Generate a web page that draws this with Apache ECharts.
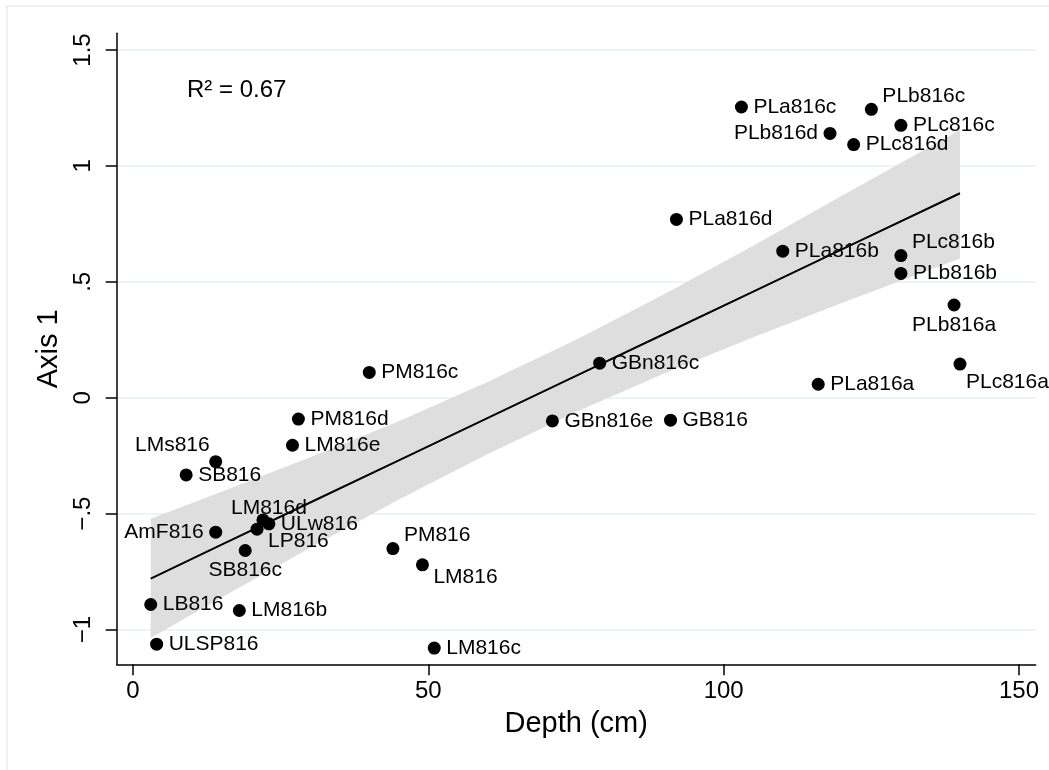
<!DOCTYPE html>
<html>
<head>
<meta charset="utf-8">
<script src="https://cdn.jsdelivr.net/npm/echarts@6/dist/echarts.min.js"></script>
<style>
  html, body { margin: 0; padding: 0; background: #fff; }
  #main { width: 1049px; height: 770px; }
</style>
</head>
<body>
<div id="main"></div>
<script>
// samples: depth (cm) vs ordination axis 1
const names = ['PLa816c', 'PLb816c', 'PLb816d', 'PLc816c', 'PLc816d', 'PLa816d', 'PLa816b', 'PLc816b',
  'PLb816b', 'PLb816a', 'PLc816a', 'PLa816a', 'GBn816c', 'GBn816e', 'GB816', 'PM816c', 'PM816d',
  'LM816e', 'LMs816', 'SB816', 'AmF816', 'LM816d', 'ULw816', 'LP816', 'SB816c', 'PM816', 'LM816',
  'LB816', 'LM816b', 'ULSP816', 'LM816c']
const depth = [103, 125, 118, 130, 122, 92, 110, 130, 130, 139, 140, 116, 79, 71, 91, 40, 28,
  27, 14, 9, 14, 22, 23, 21, 19, 44, 49, 3, 18, 4, 51]
const axis1 = [1.254, 1.244, 1.140, 1.175, 1.092, 0.769, 0.632, 0.613, 0.536, 0.400, 0.145, 0.058,
  0.149, -0.100, -0.097, 0.109, -0.092, -0.205, -0.276, -0.333, -0.580, -0.527, -0.544, -0.567,
  -0.659, -0.651, -0.721, -0.892, -0.918, -1.063, -1.080]

// fitted line and 95% band
const fitX = [3, 15, 30, 45, 60, 75, 90, 105, 120, 140]
const fitY = [-0.780, -0.634, -0.452, -0.270, -0.088, 0.094, 0.276, 0.458, 0.640, 0.882]
const fitLo = [-1.037, -0.862, -0.647, -0.439, -0.244, -0.062, 0.105, 0.261, 0.409, 0.600]
const fitHi = [-0.522, -0.406, -0.257, -0.101, 0.068, 0.250, 0.447, 0.655, 0.871, 1.155]

const xTicks = [0, 50, 100, 150]
const yTicks = [-1, -0.5, 0, 0.5, 1, 1.5]
const yTickLabels = ['\u22121', '\u2212.5', '0', '.5', '1', '1.5']
const r2Text = 'R\u00b2 = 0.67'

// marker label placement (clock position like stata mlabvpos)
const labelClock = {
  PLb816c: 2, PLb816d: 9, PLc816b: 2, PLb816a: 6, PLc816a: 5, LMs816: 11,
  AmF816: 9, LM816d: 12, LP816: 4, SB816c: 6, PM816: 2, LM816: 4
}
const clockOffsets = {
  3: { dx: 12, dy: 0, align: 'left' },
  9: { dx: -12, dy: 0, align: 'right' },
  2: { dx: 11, dy: -13, align: 'left' },
  4: { dx: 11, dy: 12, align: 'left' },
  5: { dx: 6, dy: 18, align: 'left' },
  11: { dx: -6, dy: -16, align: 'right' },
  12: { dx: 6, dy: -12, align: 'center' },
  6: { dx: 0, dy: 20, align: 'center' }
}

const FONT = "'Liberation Sans', Arial, Helvetica, sans-serif"
const SYM = 13

const pointData = names.map(function (n, i) {
  const o = clockOffsets[labelClock[n] || 3]
  return {
    name: n,
    value: [depth[i], axis1[i]],
    label: {
      position: [SYM / 2 + o.dx, SYM / 2 + o.dy],
      align: o.align,
      verticalAlign: 'middle'
    }
  }
})

const bandData = fitX.map(function (x, i) { return [x, fitLo[i], fitHi[i]] })

const chart = echarts.init(document.getElementById('main'), null, { renderer: 'canvas' })
chart.setOption({
  animation: false,
  backgroundColor: '#fff',
  textStyle: { fontFamily: FONT },
  grid: { left: 116.7, right: 13.3, top: 33.3, bottom: 105.7, outerBoundsMode: 'none' },
  graphic: [
    {
      type: 'rect',
      shape: { x: 7, y: 6, width: 1080, height: 800 },
      style: { fill: null, stroke: '#e6ecef', lineWidth: 1.5 },
      silent: true
    },
    {
      type: 'text',
      x: 187,
      y: 90.6,
      style: { text: r2Text, font: '24px ' + FONT, fill: '#000', align: 'left', verticalAlign: 'middle' },
      silent: true
    }
  ],
  xAxis: {
    type: 'value',
    min: -2.76,
    max: 152.82,
    name: 'Depth (cm)',
    nameLocation: 'middle',
    nameGap: 45,
    nameTextStyle: { fontSize: 29, color: '#000', fontFamily: FONT },
    axisLine: { show: true, onZero: false, lineStyle: { color: '#000', width: 1.5 } },
    axisTick: { show: true, length: 11, customValues: xTicks, lineStyle: { color: '#000', width: 1.5 } },
    axisLabel: { customValues: xTicks, margin: 15, fontSize: 24, color: '#000', fontFamily: FONT },
    splitLine: { show: false }
  },
  yAxis: {
    type: 'value',
    min: -1.150,
    max: 1.572,
    name: 'Axis 1',
    nameLocation: 'middle',
    nameRotate: 90,
    nameGap: 52,
    nameTextStyle: { fontSize: 29, color: '#000', fontFamily: FONT },
    axisLine: { show: true, onZero: false, lineStyle: { color: '#000', width: 1.5 } },
    axisTick: { show: true, length: 11, customValues: yTicks, lineStyle: { color: '#000', width: 1.5 } },
    axisLabel: {
      customValues: yTicks,
      rotate: 90,
      margin: 21,
      fontSize: 24,
      color: '#000',
      fontFamily: FONT,
      formatter: function (v) {
        const k = yTicks.indexOf(v)
        return k >= 0 ? yTickLabels[k] : ''
      }
    },
    splitLine: { show: true, lineStyle: { color: '#e9eff3', width: 1.5 } }
  },
  series: [
    {
      type: 'custom',
      name: 'band',
      z: 1,
      silent: true,
      data: bandData,
      encode: { x: 0, y: [1, 2] },
      renderItem: function (params, api) {
        if (params.dataIndex !== 0) return
        const upper = bandData.map(function (d) { return api.coord([d[0], d[2]]) })
        const lower = bandData.map(function (d) { return api.coord([d[0], d[1]]) }).reverse()
        return {
          type: 'polygon',
          shape: { points: upper.concat(lower) },
          style: { fill: '#dedede', stroke: null }
        }
      }
    },
    {
      type: 'line',
      name: 'fit',
      z: 2,
      silent: true,
      symbol: 'none',
      data: fitX.map(function (x, i) { return [x, fitY[i]] }),
      lineStyle: { color: '#000', width: 2 }
    },
    {
      type: 'scatter',
      name: 'samples',
      z: 3,
      symbol: 'circle',
      symbolSize: SYM,
      itemStyle: { color: '#000', opacity: 1 },
      label: { show: true, formatter: '{b}', fontSize: 21, color: '#000', fontFamily: FONT },
      emphasis: { disabled: true },
      data: pointData
    }
  ]
})
</script>
</body>
</html>
